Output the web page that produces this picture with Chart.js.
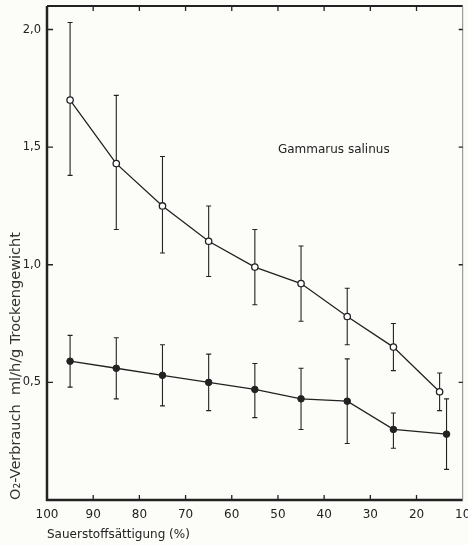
<!DOCTYPE html>
<html>
<head>
<meta charset="utf-8">
<script src="https://cdn.jsdelivr.net/npm/chart.js@4.4.1/dist/chart.umd.min.js"></script>
<style>
  body { margin: 0; background: #fcfcf8; }
  #wrap { width: 468px; height: 545px; position: relative; }
</style>
</head>
<body>
<div id="wrap"><canvas id="myChart"></canvas></div>
<script>
// saturation (%) and O2 uptake
const satOpen = [95, 85, 75, 65, 55, 45, 35, 25, 15];
const openMean = [1.70, 1.43, 1.25, 1.10, 0.99, 0.92, 0.78, 0.65, 0.46];
const openLow = [1.38, 1.15, 1.05, 0.95, 0.83, 0.76, 0.66, 0.55, 0.38];
const openHigh = [2.03, 1.72, 1.46, 1.25, 1.15, 1.08, 0.90, 0.75, 0.54];

const satFilled = [95, 85, 75, 65, 55, 45, 35, 25, 13.5];
const filledMean = [0.59, 0.56, 0.53, 0.50, 0.47, 0.43, 0.42, 0.30, 0.28];
const filledLow = [0.48, 0.43, 0.40, 0.38, 0.35, 0.30, 0.24, 0.22, 0.13];
const filledHigh = [0.70, 0.69, 0.66, 0.62, 0.58, 0.56, 0.60, 0.37, 0.43];

const xTicks = [100, 90, 80, 70, 60, 50, 40, 30, 20, 10];
const yTicks = [0.5, 1.0, 1.5, 2.0];

const ink = '#222';
const fontFam = '"DejaVu Sans", sans-serif';

function pts(xs, ys) {
  return xs.map((x, i) => ({ x: x, y: ys[i] }));
}

const errorBars = {
  id: 'errorBars',
  beforeDatasetsDraw(chart) {
    const ctx = chart.ctx;
    const xs = chart.scales.x, ys = chart.scales.y;
    const sets = [[satOpen, openLow, openHigh], [satFilled, filledLow, filledHigh]];
    ctx.save();
    ctx.strokeStyle = ink;
    ctx.lineWidth = 1.1;
    sets.forEach(([sx, lo, hi]) => {
      sx.forEach((v, i) => {
        const px = xs.getPixelForValue(v);
        const y1 = ys.getPixelForValue(lo[i]);
        const y2 = ys.getPixelForValue(hi[i]);
        ctx.beginPath();
        ctx.moveTo(px, y1); ctx.lineTo(px, y2);
        ctx.moveTo(px - 2.5, y1); ctx.lineTo(px + 2.5, y1);
        ctx.moveTo(px - 2.5, y2); ctx.lineTo(px + 2.5, y2);
        ctx.stroke();
      });
    });
    ctx.restore();
  },
  afterDraw(chart) {
    const ctx = chart.ctx;
    const a = chart.chartArea;
    const xs = chart.scales.x, ys = chart.scales.y;
    ctx.save();
    ctx.strokeStyle = ink;
    // frame
    ctx.lineWidth = 2.5;
    ctx.beginPath();
    ctx.moveTo(a.left, a.top); ctx.lineTo(a.left, a.bottom); ctx.lineTo(a.right, a.bottom);
    ctx.stroke();
    ctx.lineWidth = 2;
    ctx.beginPath();
    ctx.moveTo(a.left, a.top); ctx.lineTo(a.right, a.top);
    ctx.stroke();
    ctx.strokeStyle = '#888';
    ctx.lineWidth = 1;
    ctx.beginPath();
    ctx.moveTo(a.right, a.top); ctx.lineTo(a.right, a.bottom);
    ctx.stroke();
    // inward ticks
    ctx.strokeStyle = ink;
    ctx.lineWidth = 1.3;
    ctx.beginPath();
    yTicks.forEach(v => {
      const py = ys.getPixelForValue(v);
      ctx.moveTo(a.left, py); ctx.lineTo(a.left + 6, py);
      ctx.moveTo(a.right, py); ctx.lineTo(a.right - 4, py);
    });
    xTicks.slice(1, -1).forEach(v => {
      const px = xs.getPixelForValue(v);
      ctx.moveTo(px, a.bottom); ctx.lineTo(px, a.bottom - 5);
      ctx.moveTo(px, a.top); ctx.lineTo(px, a.top + 5);
    });
    ctx.stroke();
    // species label and x axis title
    ctx.fillStyle = ink;
    ctx.font = '12px ' + fontFam;
    ctx.textAlign = 'left';
    ctx.textBaseline = 'middle';
    ctx.fillText('Gammarus salinus', xs.getPixelForValue(50), ys.getPixelForValue(1.49));
    ctx.fillText('Sauerstoffsättigung (%)', a.left, 535);
    ctx.restore();
  }
};

const ctx = document.getElementById('myChart').getContext('2d');
const myChart = new Chart(ctx, {
  type: 'scatter',
  data: {
    datasets: [{
      data: pts(satOpen, openMean),
      showLine: true,
      borderColor: ink,
      borderWidth: 1.3,
      pointRadius: 3.2,
      pointBackgroundColor: '#fff',
      pointBorderColor: ink,
      pointBorderWidth: 1.3
    }, {
      data: pts(satFilled, filledMean),
      showLine: true,
      borderColor: ink,
      borderWidth: 1.3,
      pointRadius: 3.3,
      pointBackgroundColor: ink,
      pointBorderColor: ink,
      pointBorderWidth: 1
    }]
  },
  options: {
    responsive: true,
    maintainAspectRatio: false,
    animation: false,
    layout: { padding: { top: 6, right: 3, left: 0, bottom: 0 } },
    plugins: { legend: { display: false }, tooltip: { enabled: false } },
    scales: {
      x: {
        type: 'linear',
        reverse: true,
        min: 10,
        max: 100,
        grid: { display: false, drawTicks: false },
        border: { display: false },
        afterBuildTicks: s => { s.ticks = xTicks.map(v => ({ value: v })); },
        afterFit: s => { s.height = 45; s.paddingLeft = 0; s.paddingRight = 0; },
        ticks: {
          color: ink,
          padding: 8,
          maxRotation: 0,
          autoSkip: false,
          font: { family: fontFam, size: 12 }
        }
      },
      y: {
        min: 0,
        max: 2.1,
        grid: { display: false, drawTicks: false },
        border: { display: false },
        afterBuildTicks: s => { s.ticks = yTicks.map(v => ({ value: v })); },
        afterFit: s => { s.width = 47; s.paddingTop = 0; s.paddingBottom = 0; },
        ticks: {
          color: ink,
          padding: 6,
          font: { family: fontFam, size: 11.5 },
          callback: v => v.toFixed(1).replace('.', ',')
        },
        title: {
          display: true,
          text: 'O₂-Verbrauch  ml/h/g Trockengewicht',
          align: 'start',
          color: '#333',
          padding: { top: 8, bottom: 0 },
          font: { family: fontFam, size: 14.5 }
        }
      }
    }
  },
  plugins: [errorBars]
});
</script>
</body>
</html>
